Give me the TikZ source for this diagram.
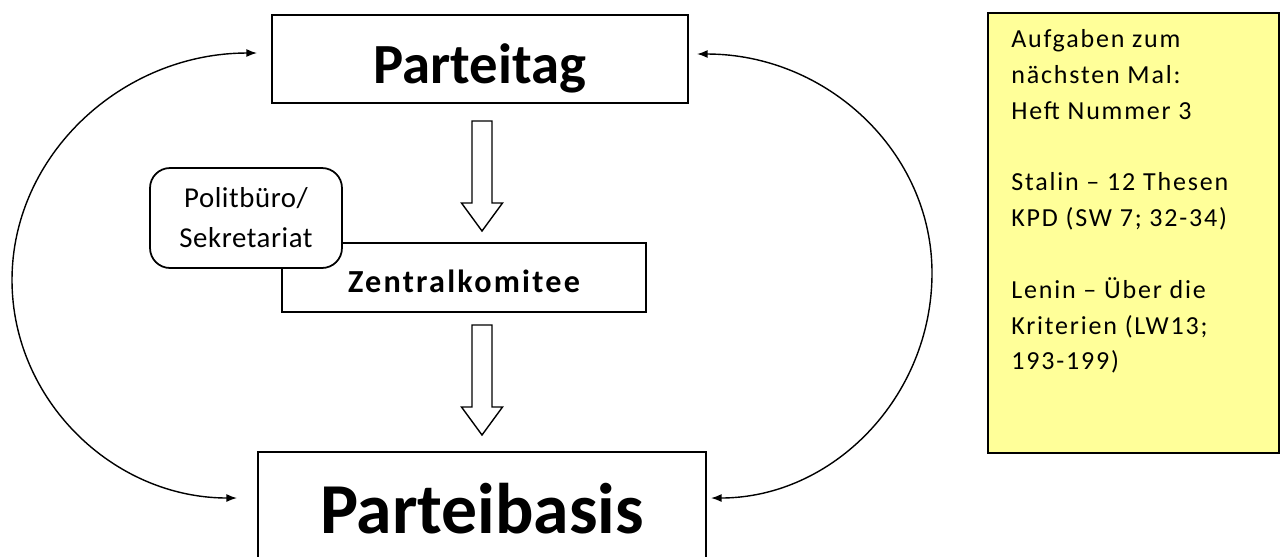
\documentclass[tikz,border=0pt]{standalone}
\usepackage{fontspec}
\setmainfont{Carlito}
\newfontfamily\spacedfont{Carlito}[LetterSpace=7]
\newfontfamily\lightspaced{Carlito}[LetterSpace=2]
\usetikzlibrary{arrows.meta}
\definecolor{notebg}{RGB}{255,255,153}

\begin{document}
\begin{tikzpicture}[x=0.02cm,y=-0.02cm,
  box/.style={draw,line width=1pt,fill=white,inner sep=0pt},
  loopline/.style={line width=0.8pt,{Latex[length=6pt,width=4.5pt]}-{Latex[length=6pt,width=4.5pt]}},
  blockarrow/.pic={\draw[line width=0.8pt,fill=white] (-10,0) -- (10,0) -- (10,82) -- (20.5,82) -- (0,110) -- (-20.5,82) -- (-10,82) -- cycle;}]

\clip (0,0) rectangle (1283,556);

\coordinate (cT) at (480,59);
\coordinate (cZ) at (464,277.5);
\coordinate (cP) at (246,218);
\coordinate (cB) at (482,508);

\node[box,minimum width=8.32cm,minimum height=1.76cm,text height=0.96cm,text depth=0pt,
      font=\bfseries\fontsize{32.3}{36}\selectfont] (T) at (cT) {Parteitag};
\node[box,minimum width=7.28cm,minimum height=1.38cm,text height=0.59cm,text depth=0pt,
      font=\spacedfont\bfseries\fontsize{18.3}{22}\selectfont] (Z) at (cZ) {Zentralkomitee};
\node[box,rounded corners=0.4cm,minimum width=3.84cm,minimum height=2cm,align=center,
      font=\lightspaced\fontsize{16.4}{22.7}\selectfont] (P) at (cP) {Politbüro/\\Sekretariat};
\node[box,minimum width=8.96cm,minimum height=2.24cm,text height=1cm,text depth=0pt,
      font=\bfseries\fontsize{40.8}{46}\selectfont] (B) at (cB) {Parteibasis};

\node[draw,line width=0.9pt,fill=notebg,minimum width=5.82cm,minimum height=8.8cm,anchor=north west] (N) at (987,12) {};
\node[anchor=north west,inner sep=0pt,align=left,font=\spacedfont\fontsize{14.8}{20.4}\selectfont] (NT) at (1011,29)
  {Aufgaben zum\\nächsten Mal:\\Heft Nummer 3\\[\baselineskip]Stalin – 12 Thesen\\KPD (SW 7; 32-34)\\[\baselineskip]Lenin – Über die\\Kriterien (LW13;\\193-199)};

\pic at (482,121) {blockarrow};
\pic at (482,325) {blockarrow};

\coordinate (cTL) at (257,53);
\coordinate (cL)  at (12,280);
\coordinate (cBL) at (237,498);
\coordinate (cTR) at (697,54);
\coordinate (cR)  at (932,273);
\coordinate (cBR) at (711,498);

\draw[loopline] (cTL) .. controls (122,53) and (12,155) .. (cL) .. controls (12,400) and (113,498) .. (cBL);
\draw[loopline] (cTR) .. controls (827,54) and (932,152) .. (cR) .. controls (932,397) and (833,498) .. (cBR);

\end{tikzpicture}
\end{document}
